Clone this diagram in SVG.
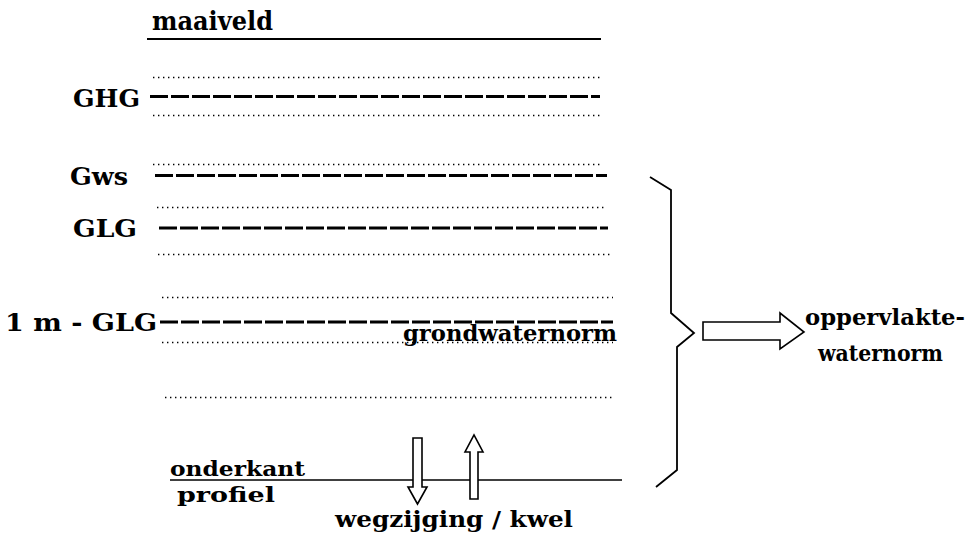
<svg xmlns="http://www.w3.org/2000/svg" width="970" height="541" viewBox="0 0 970 541">
<style>
text{font-family:"DejaVu Serif","Liberation Serif",serif;font-weight:bold;fill:#000}
.lbl{font-size:25px}
.sm{font-size:23px}
.xs{font-size:21px}
.solid{stroke:#000;stroke-width:2;fill:none}
.dash{stroke:#000;stroke-width:3;stroke-dasharray:18 3;fill:none}
.dot{stroke:#000;stroke-width:1.4;stroke-dasharray:1.4 3.6;fill:none}
.arr{fill:#fff;stroke:#000;stroke-width:1.6;stroke-linejoin:miter}
</style>
<rect width="970" height="541" fill="#fff"/>
<g id="maaiveld">
<text x="152" y="30" style="font-size:26px" textLength="121" lengthAdjust="spacingAndGlyphs">maaiveld</text>
<line class="solid" x1="147" y1="39" x2="601" y2="39"/>
</g>
<g id="ghg">
<line class="dot" x1="153" y1="77.5" x2="602" y2="77.5"/>
<line class="dash" x1="150" y1="96.5" x2="600" y2="96.5"/>
<line class="dot" x1="153" y1="115.5" x2="602" y2="115.5"/>
<text class="lbl" x="73" y="107" textLength="67" lengthAdjust="spacingAndGlyphs">GHG</text>
</g>
<g id="gws">
<line class="dot" x1="153" y1="164.5" x2="602" y2="164.5"/>
<line class="dash" x1="155" y1="175.5" x2="607" y2="175.5"/>
<text class="lbl" x="70" y="185" textLength="58" lengthAdjust="spacingAndGlyphs">Gws</text>
</g>
<g id="glg">
<line class="dot" x1="157" y1="207.5" x2="605" y2="207.5"/>
<line class="dash" x1="159" y1="228" x2="608" y2="228"/>
<line class="dot" x1="158" y1="254.5" x2="610" y2="254.5"/>
<text class="lbl" x="73" y="237" textLength="64" lengthAdjust="spacingAndGlyphs">GLG</text>
</g>
<g id="glg1m">
<line class="dot" x1="162" y1="297.5" x2="613" y2="297.5"/>
<line class="dash" x1="160" y1="322" x2="613" y2="322"/>
<line class="dot" x1="162" y1="342.5" x2="613" y2="342.5"/>
<text class="lbl" x="5" y="331" textLength="152" lengthAdjust="spacingAndGlyphs">1 m - GLG</text>
<text class="sm" x="403" y="341" textLength="214" lengthAdjust="spacingAndGlyphs">grondwaternorm</text>
</g>
<g id="lower">
<line class="dot" x1="165" y1="397.5" x2="615" y2="397.5"/>
</g>
<g id="onderkant">
<line x1="170" y1="480" x2="622" y2="480" stroke="#000" stroke-width="1.6"/>
<text class="xs" x="170" y="476" textLength="135" lengthAdjust="spacingAndGlyphs">onderkant</text>
<text class="xs" x="177" y="502" textLength="98" lengthAdjust="spacingAndGlyphs">profiel</text>
</g>
<g id="fluxes">
<text class="sm" x="335" y="527" textLength="238" lengthAdjust="spacingAndGlyphs">wegzijging / kwel</text>
</g>
<g id="oppervlaktewaternorm">
<text class="sm" x="805" y="325" textLength="160" lengthAdjust="spacingAndGlyphs">oppervlakte-</text>
<text class="sm" x="818" y="361" textLength="125" lengthAdjust="spacingAndGlyphs">waternorm</text>
</g>
<g id="connectors">
<polyline fill="none" stroke="#000" stroke-width="1.8" points="650,177 671,190 671,313 694,333 677,347 677,470 656,487"/>
<polygon class="arr" points="703,322 780,322 780,313 804,332 780,349 780,340 703,340"/>
<polygon class="arr" points="413,438 422,438 422,487 427,487 417.5,504 408,487 413,487"/>
<polygon class="arr" points="470,499 478,499 478,452 483,452 474,435 465,452 470,452"/>
</g>
</svg>
